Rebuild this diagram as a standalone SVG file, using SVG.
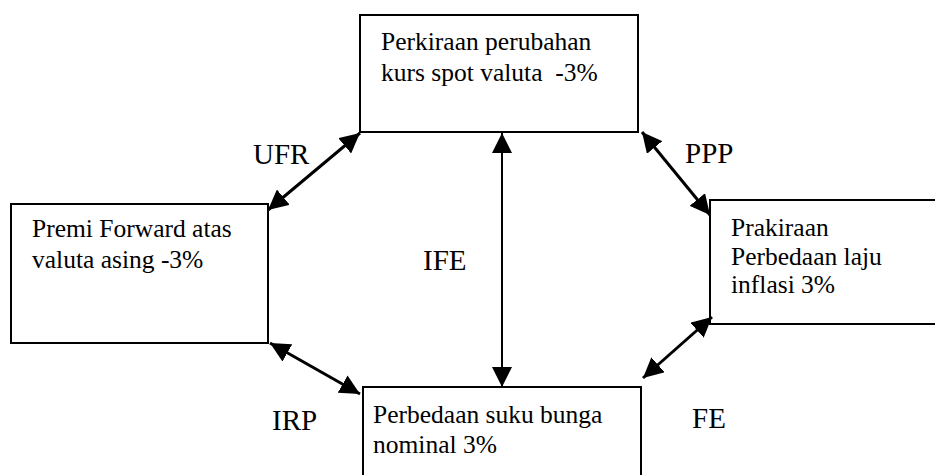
<svg xmlns="http://www.w3.org/2000/svg" width="935" height="475" viewBox="0 0 935 475">
<style>
.box{fill:#fff;stroke:#000;stroke-width:2}
.t{font-family:'Liberation Serif','Tinos','Times New Roman','DejaVu Serif',serif;font-size:25.5px;fill:#000}
.lb{font-family:'Liberation Serif','Tinos','Times New Roman','DejaVu Serif',serif;font-size:29px;fill:#000}
.c{stroke:#000;stroke-width:3;fill:none;marker-start:url(#ah);marker-end:url(#ah)}
</style>
<defs>
<marker id="ah" markerUnits="userSpaceOnUse" markerWidth="20" markerHeight="20" viewBox="0 0 20 20" refX="20" refY="10" orient="auto-start-reverse">
<path d="M0,0 L20,10 L0,20 z" fill="#000"/>
</marker>
</defs>
<rect width="935" height="475" fill="#fff"/>
<g id="node-spot">
<rect class="box" x="360" y="15" width="278" height="117"/>
<text class="t" x="381" y="50" font-family="Liberation Serif, serif">Perkiraan perubahan</text>
<text class="t" x="381" y="81" xml:space="preserve">kurs spot valuta  -3%</text>
</g>
<g id="node-forward">
<rect class="box" x="11" y="204" width="257" height="139"/>
<text class="t" x="32" y="237">Premi Forward atas</text>
<text class="t" x="32" y="268">valuta asing -3%</text>
</g>
<g id="node-inflasi">
<rect class="box" x="710" y="200" width="240" height="124"/>
<text class="t" x="731" y="236">Prakiraan</text>
<text class="t" x="731" y="265">Perbedaan laju</text>
<text class="t" x="731" y="293">inflasi 3%</text>
</g>
<g id="node-bunga">
<rect class="box" x="363" y="387" width="278" height="100"/>
<text class="t" x="373" y="423">Perbedaan suku bunga</text>
<text class="t" x="373" y="453">nominal 3%</text>
</g>
<g id="connectors">
<line class="c" x1="360" y1="133" x2="268" y2="210"/>
<line class="c" x1="642" y1="132" x2="710" y2="215"/>
<line class="c" x1="502" y1="133" x2="502" y2="387" style="stroke-width:2"/>
<line class="c" x1="712" y1="317" x2="643" y2="378"/>
<line class="c" x1="270" y1="343" x2="360" y2="394"/>
</g>
<g id="labels">
<text class="lb" x="253" y="164">UFR</text>
<text class="lb" x="685" y="163">PPP</text>
<text class="lb" x="423" y="270">IFE</text>
<text class="lb" x="272" y="430">IRP</text>
<text class="lb" x="692" y="428">FE</text>
</g>
</svg>
